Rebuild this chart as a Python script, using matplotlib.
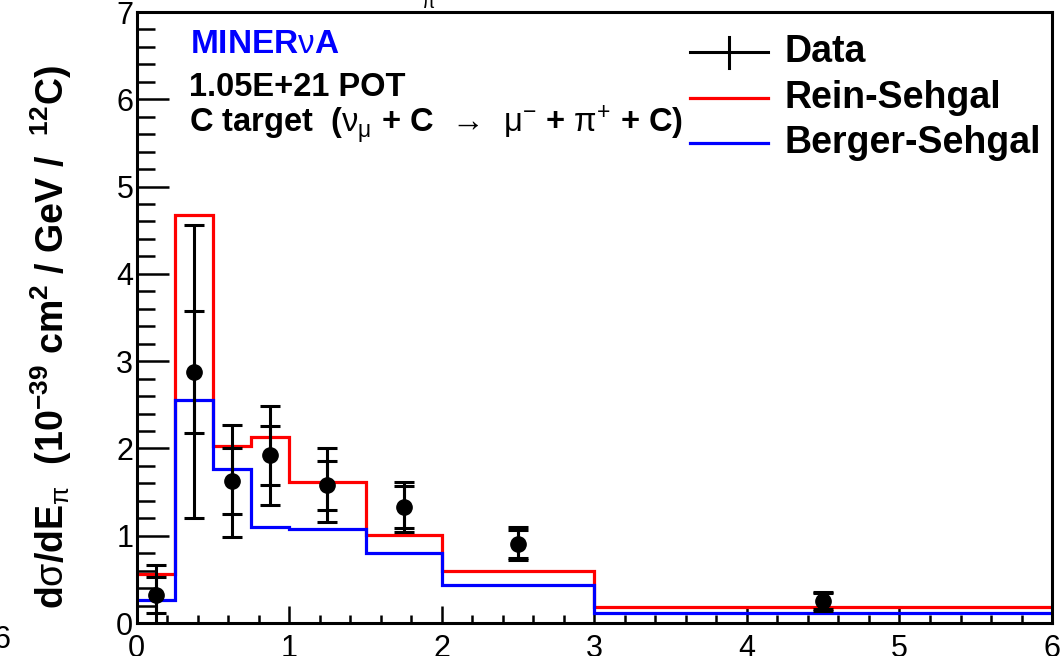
import numpy as np
import matplotlib
matplotlib.use("Agg")
import matplotlib.pyplot as plt
from matplotlib.ticker import MultipleLocator

plt.rcParams['font.family'] = ['Liberation Sans', 'DejaVu Sans']
plt.rcParams['mathtext.fontset'] = 'custom'
plt.rcParams['mathtext.rm'] = 'Liberation Sans'
plt.rcParams['mathtext.it'] = 'Liberation Sans:italic'
plt.rcParams['mathtext.bf'] = 'Liberation Sans:bold'
plt.rcParams['mathtext.default'] = 'regular'

# Bin edges in pion energy (GeV)
bin_edges = np.array([0.0, 0.25, 0.5, 0.75, 1.0, 1.5, 2.0, 3.0, 6.0])

# Data points: bin centres, cross section, stat and total errors
data_x = np.array([0.125, 0.375, 0.625, 0.875, 1.25, 1.75, 2.5, 4.5])
data_y = np.array([0.32, 2.88, 1.63, 1.92, 1.58, 1.33, 0.91, 0.25])
data_stat = np.array([0.21, 0.70, 0.38, 0.34, 0.28, 0.24, 0.16, 0.09])
data_tot = np.array([0.34, 1.68, 0.64, 0.57, 0.42, 0.29, 0.19, 0.11])

# Model predictions per bin
rein_sehgal = np.array([0.56, 4.67, 2.03, 2.13, 1.62, 1.01, 0.60, 0.18])
berger_sehgal = np.array([0.26, 2.55, 1.76, 1.10, 1.08, 0.80, 0.44, 0.12])

fig = plt.figure(figsize=(10.6, 6.56), dpi=100)
ax = fig.add_axes([0.129, 0.0503, 0.8635, 0.9314])

ax.stairs(rein_sehgal, bin_edges, baseline=None, color='#ff0000', lw=2.3, zorder=2)
ax.stairs(berger_sehgal, bin_edges, baseline=None, color='#0000ff', lw=2.3, zorder=2)

# total errors (outer) then stat errors (inner), ROOT-style double bars
ax.errorbar(data_x, data_y, yerr=data_tot, fmt='none', ecolor='black',
            elinewidth=2.2, capsize=7, capthick=2.2, zorder=3)
ax.errorbar(data_x, data_y, yerr=data_stat, fmt='o', color='black', ms=11,
            elinewidth=2.2, capsize=7, capthick=2.2, zorder=4)

ax.set_xlim(0, 6)
ax.set_ylim(0, 7)

ax.xaxis.set_major_locator(MultipleLocator(1))
ax.xaxis.set_minor_locator(MultipleLocator(0.2))
ax.yaxis.set_major_locator(MultipleLocator(1))
ax.yaxis.set_minor_locator(MultipleLocator(0.2))
ax.tick_params(axis='both', which='both', direction='in', width=1.8,
               labelsize=22, top=False, right=False)
ax.tick_params(axis='x', which='major', length=12, pad=8)
ax.tick_params(axis='x', which='minor', length=6)
ax.tick_params(axis='y', which='major', length=23, pad=2.5)
ax.tick_params(axis='y', which='minor', length=13)
for s in ax.spines.values():
    s.set_linewidth(2.2)

fig.text(51 / 1060, 1 - 337 / 656,
         r"d$\mathrm{\sigma}$/dE$_{\mathrm{\pi}}$  (10$^{-39}$ cm$^{2}$ / GeV /  $^{12}$C)",
         rotation=90, ha='center', va='center', fontsize=27, fontweight='bold')

# experiment labels
ax.text(0.058, 0.946, r"MINER$\mathrm{\nu}$A", transform=ax.transAxes, color='#0000ff',
        fontsize=24, fontweight='bold', va='center')
ax.text(0.057, 0.876, "1.05E+21 POT", transform=ax.transAxes,
        fontsize=23.5, fontweight='bold', va='center')
ax.text(0.057, 0.815,
        r"C target  ($\mathrm{\nu_{\mu}}$ + C $\mathrm{\,\rightarrow\,}$ "
        r"$\mathrm{\mu^{-}}$ + $\mathrm{\pi^{+}}$ + C)",
        transform=ax.transAxes, fontsize=23.5, fontweight='bold', va='center')

# legend drawn by hand
lx0, lx1, ltx = 0.604, 0.690, 0.708
rows = [0.934, 0.860, 0.786]
ax.plot([lx0, lx1], [rows[0], rows[0]], color='black', lw=2.2, transform=ax.transAxes)
ax.plot([(lx0 + lx1) / 2] * 2, [rows[0] - 0.025, rows[0] + 0.025], color='black',
        lw=2.2, transform=ax.transAxes)
ax.plot([lx0, lx1], [rows[1], rows[1]], color='#ff0000', lw=2.3, transform=ax.transAxes)
ax.plot([lx0, lx1], [rows[2], rows[2]], color='#0000ff', lw=2.3, transform=ax.transAxes)
for y, lab in zip(rows, ["Data", "Rein-Sehgal", "Berger-Sehgal"]):
    ax.text(ltx, y, lab, transform=ax.transAxes, fontsize=27, fontweight='bold',
            va='center')

# edge labels
fig.text(-0.006, 1 - 640 / 656, "6", fontsize=22, va='center', ha='left')
fig.text(421 / 1060, 1 - 8 / 656, r"$\pi$", fontsize=14, va='baseline', ha='left')

fig.savefig("out.png", dpi=100)
